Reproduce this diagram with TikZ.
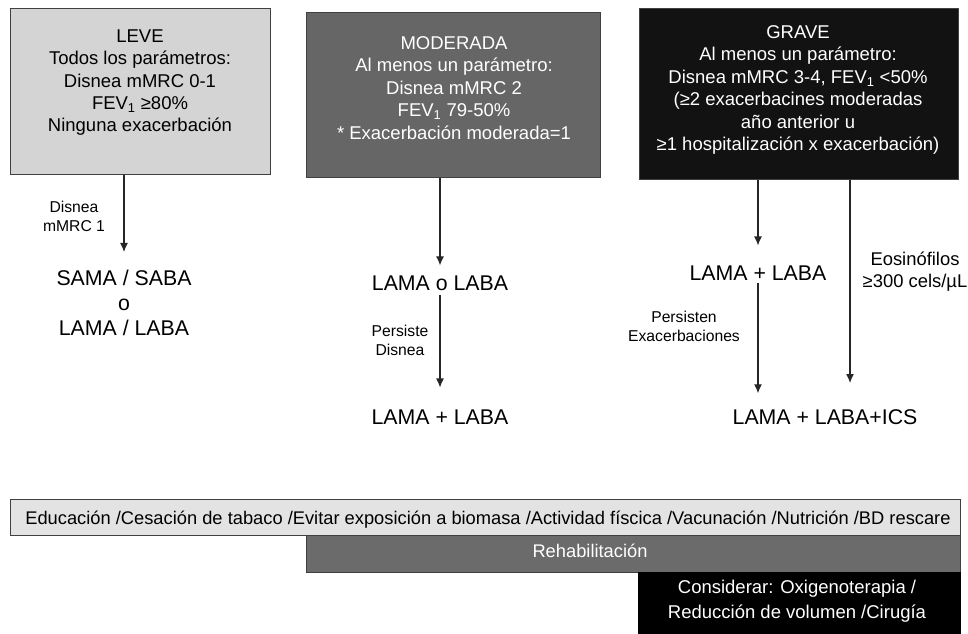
\documentclass[tikz,border=0pt]{standalone}
\usepackage{fontspec}
\setmainfont{Liberation Sans}
\usetikzlibrary{arrows.meta}

\definecolor{gLeve}{gray}{0.83}
\definecolor{gMod}{gray}{0.40}
\definecolor{gGrave}{gray}{0.07}
\definecolor{gEdu}{gray}{0.89}
\definecolor{gRehab}{gray}{0.42}

\begin{document}
\begin{tikzpicture}[x=1pt,y=-1pt,>={Latex[length=9pt,width=8pt]},
        caja/.style={draw=black!75,line width=1pt,inner sep=0pt,anchor=north west},
        txtcaja/.style={align=center,inner sep=0pt,anchor=north,font=\fontsize{18.5}{22.4}\selectfont},
        trat/.style={align=center,inner sep=0pt,font=\fontsize{21.3}{25}\selectfont},
        etiq/.style={align=center,inner sep=0pt,anchor=north,font=\fontsize{15.7}{19}\selectfont},
        barra/.style={inner sep=0pt,anchor=base,font=\fontsize{18.3}{25}\selectfont},
        flecha/.style={->,line width=1.2pt,black!85}]
        \useasboundingbox (0,0) rectangle (968,633);

        % cajas de severidad
        \node[caja,fill=gLeve,minimum width=260pt,minimum height=166pt] (leve) at (10,8) {};
        \node[caja,fill=gMod,minimum width=294pt,minimum height=165pt] (mod) at (306,12) {};
        \node[caja,fill=gGrave,minimum width=319pt,minimum height=171pt] (grave) at (639,8) {};

        \node[txtcaja] (leveTxt) at (140,29.4) {LEVE\\Todos los parámetros:\\Disnea mMRC 0-1\\FEV\textsubscript{1} ≥80\%\\Ninguna exacerbación};
        \node[txtcaja,text=white] (modTxt) at (454,36.4) {MODERADA\\Al menos un parámetro:\\Disnea mMRC 2\\FEV\textsubscript{1} 79-50\%\\* Exacerbación moderada=1};
        \node[txtcaja,text=white] (graveTxt) at (798,25.4) {GRAVE\\Al menos un parámetro:\\Disnea mMRC 3-4, FEV\textsubscript{1} <50\%\\(≥2 exacerbacines moderadas\\año anterior u\\≥1 hospitalización x exacerbación)};

        % tratamientos
        \node[trat] (trtA) at (124,303) {SAMA / SABA\\o\\LAMA / LABA};
        \node[trat] (trtB) at (440,283) {LAMA o LABA};
        \node[trat] (trtC) at (440,417) {LAMA + LABA};
        \node[trat] (trtD) at (758,273) {LAMA + LABA};
        \node[trat] (trtE) at (825,417) {LAMA + LABA+ICS};
        \coordinate (eos) at (850,383);

        \node[etiq] (lblA) at (74,201.4) {Disnea\\mMRC 1};
        \node[etiq] (lblB) at (400,325.4) {Persiste\\Disnea};
        \node[etiq] (lblC) at (684,311.4) {Persisten\\Exacerbaciones};
        \node[etiq,font=\fontsize{18.4}{22}\selectfont] (lblD) at (915,251.4) {Eosinófilos\\≥300 cels/µL};

        \draw[flecha,shorten >=18pt] (leve.south -| trtA.north) -- (trtA.north);
        \draw[flecha,shorten >=10pt] (mod.south -| trtB.north) -- (trtB.north);
        \draw[flecha,shorten <=4.5pt,shorten >=22pt] (trtB.south) -- (trtC.north);
        \draw[flecha,shorten >=20pt] (grave.south -| trtD.north) -- (trtD.north);
        \draw[flecha,shorten <=2.5pt,shorten >=16pt] (trtD.south) -- (trtD.south |- trtE.north);
        \draw[flecha] (grave.south -| eos) -- (eos);

        % barras inferiores
        \node[caja,fill=gEdu,minimum width=950pt,minimum height=36pt] (edu) at (10,499) {};
        \node[caja,fill=gRehab,minimum width=654pt,minimum height=37pt] (rehab) at (306,535) {};
        \node[caja,draw=black,fill=black,minimum width=322pt,minimum height=61pt] (cons) at (638,572) {};

        \node[barra] (eduTxt) at (488,524) {Educación /Cesación de tabaco /Evitar exposición a biomasa /Actividad físcica /Vacunación /Nutrición /BD rescare};
        \node[barra,text=white] (rehabTxt) at (590,557) {Rehabilitación};
        \node[txtcaja,text=white,font=\fontsize{18.5}{25}\selectfont] (consTxt) at (797,580) {Considerar: Oxigenoterapia /\\Reducción de volumen /Cirugía};
\end{tikzpicture}
\end{document}
